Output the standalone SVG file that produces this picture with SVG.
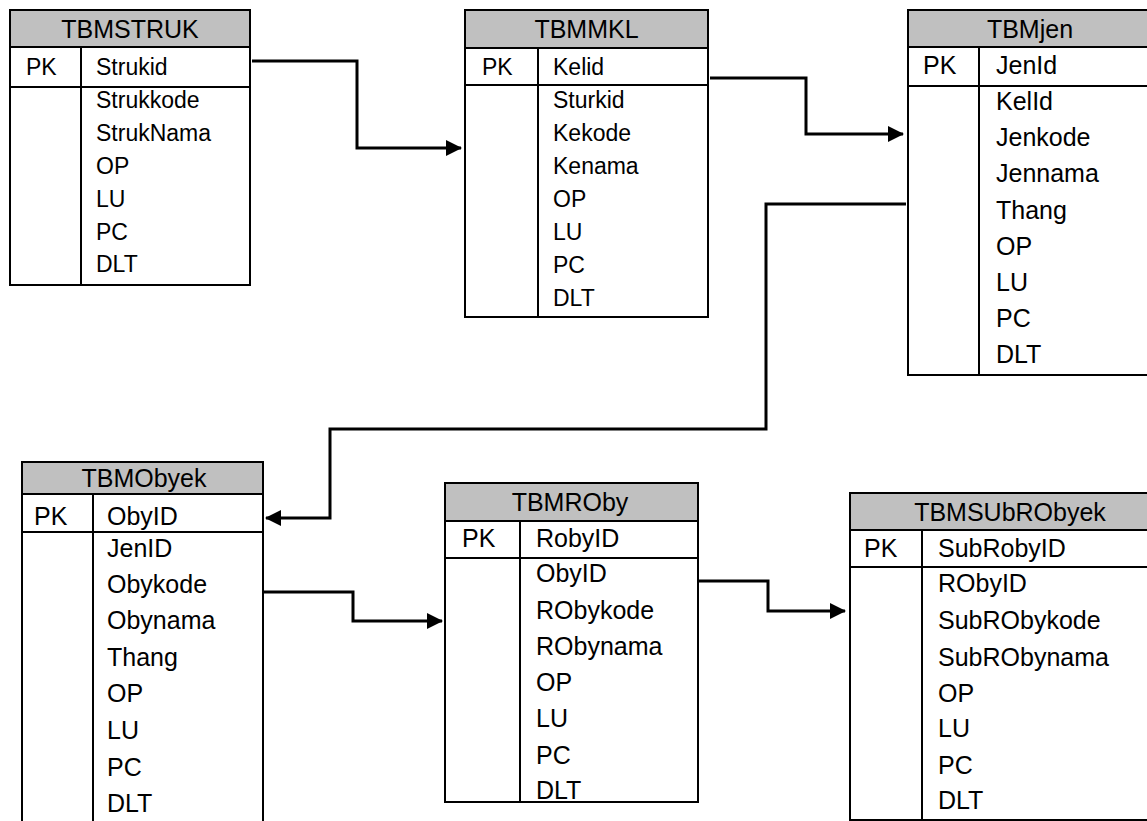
<svg xmlns="http://www.w3.org/2000/svg" width="1147" height="821" viewBox="0 0 1147 821">
<style>
.box{fill:#fff;stroke:#000;stroke-width:2}
.hdr{fill:#c0c0c0;stroke:#000;stroke-width:2}
.ln{stroke:#000;stroke-width:2;fill:none}
.t{font-family:"Liberation Sans",Arial,sans-serif;fill:#000}
.s{font-size:23px}
.m{font-size:25px}
.ttl{text-anchor:middle}
.conn{stroke:#000;stroke-width:3;fill:none;marker-end:url(#arr)}
</style>
<defs>
<marker id="arr" markerUnits="userSpaceOnUse" markerWidth="16" markerHeight="16" refX="15" refY="8" orient="auto">
<path d="M0,0 L16,8 L0,16 z" fill="#000"/>
</marker>
</defs>
<rect width="1147" height="821" fill="#fff"/>

<g id="TBMSTRUK">
<rect class="box" x="10" y="10" width="240" height="275"/>
<rect class="hdr" x="10" y="10" width="240" height="37"/>
<line class="ln" x1="10" y1="87" x2="250" y2="87"/>
<line class="ln" x1="81" y1="47" x2="81" y2="285"/>
<text class="t s ttl" x="130" y="38" style="font-size:25px">TBMSTRUK</text>
<text class="t s" x="26" y="75">PK</text>
<text class="t s" x="96" y="75">Strukid</text>
<text class="t s" x="96" y="108">Strukkode</text>
<text class="t s" x="96" y="141">StrukNama</text>
<text class="t s" x="96" y="174">OP</text>
<text class="t s" x="96" y="207">LU</text>
<text class="t s" x="96" y="240">PC</text>
<text class="t s" x="96" y="272">DLT</text>
</g>

<g id="TBMMKL">
<rect class="box" x="465" y="10" width="243" height="307"/>
<rect class="hdr" x="465" y="10" width="243" height="38"/>
<line class="ln" x1="465" y1="85" x2="708" y2="85"/>
<line class="ln" x1="538" y1="48" x2="538" y2="317"/>
<text class="t s ttl" x="586.5" y="38" style="font-size:25px">TBMMKL</text>
<text class="t s" x="482" y="75">PK</text>
<text class="t s" x="553" y="75">Kelid</text>
<text class="t s" x="553" y="108">Sturkid</text>
<text class="t s" x="553" y="141">Kekode</text>
<text class="t s" x="553" y="174">Kenama</text>
<text class="t s" x="553" y="207">OP</text>
<text class="t s" x="553" y="240">LU</text>
<text class="t s" x="553" y="273">PC</text>
<text class="t s" x="553" y="306">DLT</text>
</g>

<g id="TBMjen">
<rect class="box" x="908" y="10" width="244" height="365"/>
<rect class="hdr" x="908" y="10" width="244" height="37"/>
<line class="ln" x1="908" y1="86" x2="1152" y2="86"/>
<line class="ln" x1="979" y1="47" x2="979" y2="375"/>
<text class="t m ttl" x="1030" y="38">TBMjen</text>
<text class="t m" x="923" y="74">PK</text>
<text class="t m" x="996" y="74">JenId</text>
<text class="t m" x="996" y="110">KelId</text>
<text class="t m" x="996" y="146">Jenkode</text>
<text class="t m" x="996" y="182">Jennama</text>
<text class="t m" x="996" y="219">Thang</text>
<text class="t m" x="996" y="255">OP</text>
<text class="t m" x="996" y="291">LU</text>
<text class="t m" x="996" y="327">PC</text>
<text class="t m" x="996" y="363">DLT</text>
</g>

<g id="TBMObyek">
<rect class="box" x="22" y="462" width="241" height="370"/>
<rect class="hdr" x="22" y="462" width="241" height="32"/>
<line class="ln" x1="22" y1="532" x2="263" y2="532"/>
<line class="ln" x1="93" y1="494" x2="93" y2="832"/>
<text class="t m ttl" x="144" y="487">TBMObyek</text>
<text class="t m" x="34" y="525">PK</text>
<text class="t m" x="107" y="525">ObyID</text>
<text class="t m" x="107" y="557">JenID</text>
<text class="t m" x="107" y="593">Obykode</text>
<text class="t m" x="107" y="629">Obynama</text>
<text class="t m" x="107" y="666">Thang</text>
<text class="t m" x="107" y="702">OP</text>
<text class="t m" x="107" y="739">LU</text>
<text class="t m" x="107" y="776">PC</text>
<text class="t m" x="107" y="812">DLT</text>
</g>

<g id="TBMROby">
<rect class="box" x="445" y="483" width="253" height="319"/>
<rect class="hdr" x="445" y="483" width="253" height="38"/>
<line class="ln" x1="445" y1="558" x2="698" y2="558"/>
<line class="ln" x1="520" y1="521" x2="520" y2="802"/>
<text class="t m ttl" x="570" y="511">TBMROby</text>
<text class="t m" x="462" y="547">PK</text>
<text class="t m" x="536" y="547">RobyID</text>
<text class="t m" x="536" y="582">ObyID</text>
<text class="t m" x="536" y="619">RObykode</text>
<text class="t m" x="536" y="655">RObynama</text>
<text class="t m" x="536" y="691">OP</text>
<text class="t m" x="536" y="727">LU</text>
<text class="t m" x="536" y="764">PC</text>
<text class="t m" x="536" y="799">DLT</text>
</g>

<g id="TBMSUbRObyek">
<rect class="box" x="850" y="493" width="320" height="327"/>
<rect class="hdr" x="850" y="493" width="320" height="37"/>
<line class="ln" x1="850" y1="567" x2="1170" y2="567"/>
<line class="ln" x1="922" y1="530" x2="922" y2="820"/>
<text class="t m ttl" x="1010" y="521">TBMSUbRObyek</text>
<text class="t m" x="864" y="557">PK</text>
<text class="t m" x="938" y="557">SubRobyID</text>
<text class="t m" x="938" y="592">RObyID</text>
<text class="t m" x="938" y="629">SubRObykode</text>
<text class="t m" x="938" y="666">SubRObynama</text>
<text class="t m" x="938" y="702">OP</text>
<text class="t m" x="938" y="737">LU</text>
<text class="t m" x="938" y="774">PC</text>
<text class="t m" x="938" y="809">DLT</text>
</g>

<g id="connectors">
<path class="conn" d="M252,61 H357 V148 H461"/>
<path class="conn" d="M710,78 H806 V134 H903"/>
<path class="conn" d="M906,204 H766 V429 H330 V518 H266"/>
<path class="conn" d="M264,592 H353 V621 H442"/>
<path class="conn" d="M699,581 H768 V611 H845"/>
</g>
</svg>
